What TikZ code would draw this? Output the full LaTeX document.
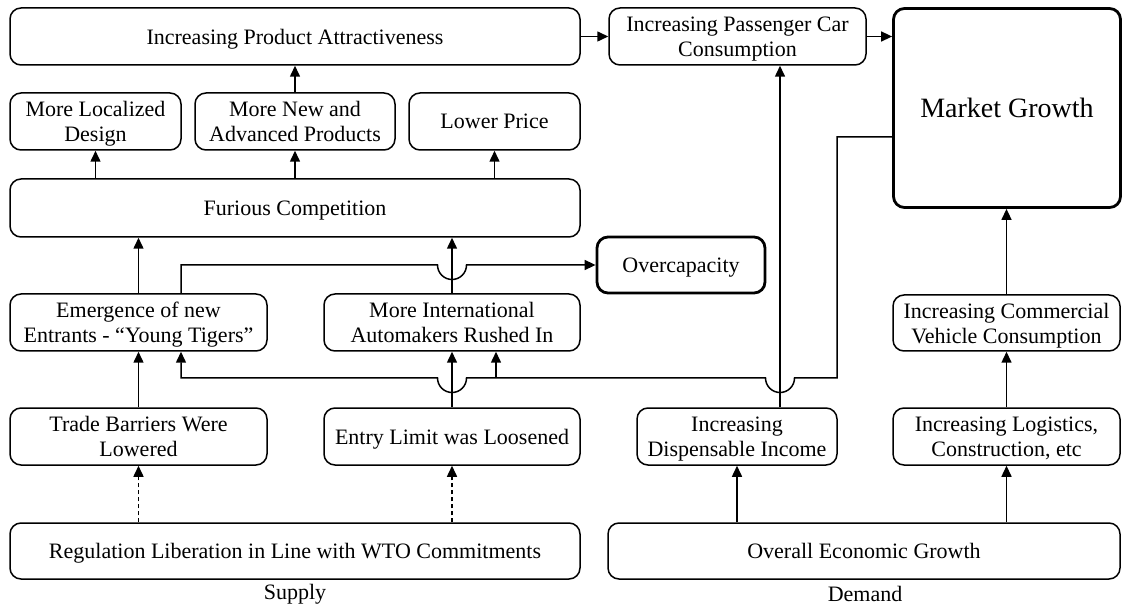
\documentclass[tikz,border=0pt]{standalone}
\usepackage{fontspec}
\setmainfont{Liberation Serif}
\usetikzlibrary{arrows.meta}
\begin{document}
\begin{tikzpicture}[x=0.5pt,y=-0.5pt,
  box/.style={draw, inner sep=0pt, text depth=0pt, rounded corners=5.5pt,
    line width=0.75pt, align=center, font=\fontsize{11}{12.5}\selectfont},
  heavybox/.style={box, line width=1.4pt},
  wh/.style 2 args={minimum width=#1, minimum height=#2},
  arr/.style={line width=0.75pt, -{Triangle[length=5.5pt,width=5pt]}},
  dasharr/.style={arr, dash pattern=on 2pt off 1.5pt},
  caption/.style={font=\fontsize{11}{12.5}\selectfont, inner sep=0pt}]
\useasboundingbox (0,0) rectangle (1122,608);

% supply side
\node[box, wh={285pt}{28.5pt}] (top) at (295,36.5) {Increasing Product Attractiveness};
\node[box, wh={85.5pt}{28.5pt}] (loc) at (95.5,121.5) {More Localized\\Design};
\node[box, wh={100pt}{28.5pt}] (newp) at (295,121.5) {More New and\\Advanced Products};
\node[box, wh={85.5pt}{28.5pt}] (low) at (494.5,121.5) {Lower Price};
\node[box, wh={285pt}{29pt}] (fur) at (295,208) {Furious Competition};
\node[heavybox, wh={84pt}{28pt}] (over) at (681,265) {Overcapacity};
\node[box, wh={128.5pt}{28.5pt}] (emerg) at (138.5,322.5) {Emergence of new\\Entrants - “Young Tigers”};
\node[box, wh={128pt}{28.5pt}] (intl) at (452,322.5) {More International\\Automakers Rushed In};
\node[box, wh={128.5pt}{28.5pt}] (trade) at (138.5,436.5) {Trade Barriers Were\\Lowered};
\node[box, wh={128pt}{28.5pt}] (entry) at (452,436.5) {Entry Limit was Loosened};
\node[box, wh={285pt}{28pt}] (reg) at (295,551) {Regulation Liberation in Line with WTO Commitments};

% demand side
\node[box, wh={128.5pt}{28.5pt}] (pass) at (737.5,36.5) {Increasing Passenger Car\\Consumption};
\node[heavybox, wh={113.5pt}{99.5pt}, font=\fontsize{14}{17}\selectfont] (mg) at (1007,108) {Market Growth};
\node[box, wh={113.5pt}{28pt}] (comm) at (1006.5,323) {Increasing Commercial\\Vehicle Consumption};
\node[box, wh={100pt}{28.5pt}] (disp) at (737,436.5) {Increasing\\Dispensable Income};
\node[box, wh={113.5pt}{28.5pt}] (logi) at (1006.5,436.5) {Increasing Logistics,\\Construction, etc};
\node[box, wh={256pt}{28pt}] (overall) at (864,551) {Overall Economic Growth};

\node[caption] (supply) at (295,594) {Supply};
\node[caption] (demand) at (865,594) {Demand};

% connectors
\draw[arr] (top.east) -- (pass.west);
\draw[arr] (pass.east) -- (pass.east -| mg.west);
\draw[arr] (newp.north) -- (newp.north |- top.south);
\foreach \n in {loc,newp,low}
  \draw[arr] (fur.north -| \n.south) -- (\n.south);
\draw[arr] (emerg.north) -- (emerg.north |- fur.south);
\draw[arr] (intl.north) -- (intl.north |- fur.south);
\draw[arr] (emerg.north -| 181,0) -- (181,265) -- (437.5,265)
  arc (180:0:14.5) -- (over.west);
\draw[arr] (mg.west |- 0,137) -- (837,137) -- (837,378) -- (794.5,378)
  arc (0:180:14.5) -- (466.5,378) arc (0:180:14.5) -- (181,378)
  -- (emerg.south -| 181,0);
\draw[arr] (496,378) -- (intl.south -| 496,0);
\draw[arr] (trade.north) -- (emerg.south);
\draw[arr] (entry.north) -- (intl.south);
\draw[dasharr] (reg.north -| trade.south) -- (trade.south);
\draw[dasharr] (reg.north -| entry.south) -- (entry.south);
\draw[arr] (overall.north -| disp.south) -- (disp.south);
\draw[arr] (overall.north -| logi.south) -- (logi.south);
\draw[arr] (logi.north) -- (comm.south);
\draw[arr] (comm.north) -- (comm.north |- mg.south);
\draw[arr] (disp.north -| 780,0) -- (pass.south -| 780,0);
\end{tikzpicture}
\end{document}
